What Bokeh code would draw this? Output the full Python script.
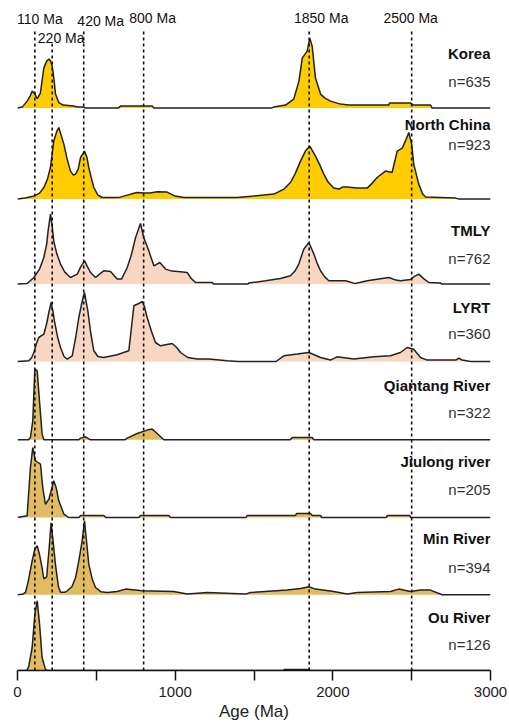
from bokeh.plotting import figure
from bokeh.models import Range1d, FixedTicker
from bokeh.embed import file_html
from bokeh.resources import INLINE
from bokeh.core.properties import value

# ---------------- data ----------------
panel_names = ["Korea", "North China", "TMLY", "LYRT", "Qiantang River",
               "Jiulong river", "Min River", "Ou River"]
panel_n = [635, 923, 762, 360, 322, 205, 394, 126]

korea_age = [0, 30, 61, 80, 93, 110, 125, 145, 167, 185, 199, 210, 220, 232, 241, 262, 290, 355, 380, 420, 430,
             640, 653, 854, 865, 1610, 1625, 1700, 1752, 1785, 1806, 1837, 1854, 1869, 1880, 1890, 1922, 1950,
             1985, 2048, 2100, 2354, 2360, 2494, 2510, 2620, 2630, 3000]
korea_dens = [0, 1, 7, 12, 17, 14, 9.5, 15, 40, 47, 49, 47, 42, 28, 14, 5.5, 3, 2, 1, 1, 0,
              0, 2, 2, 0, 0, 1, 3, 9, 27, 50, 57, 70, 62, 45, 30, 14, 10,
              7, 4, 3, 3, 5, 5, 3, 3, 0, 0]

nchina_age = [0, 50, 104, 140, 167, 190, 209, 230, 250, 262, 275, 294, 315, 336, 355, 368, 385, 400, 425, 440,
              452, 470, 484, 510, 537, 600, 640, 674, 720, 759, 801, 840, 886, 949, 1000, 1055, 1393, 1500,
              1626, 1690, 1731, 1760, 1795, 1826, 1854, 1890, 1915, 1943, 1970, 2006, 2040, 2060, 2091, 2150,
              2218, 2250, 2281, 2334, 2376, 2408, 2440, 2460, 2482, 2500, 2513, 2545, 2570, 2588, 2778, 2800, 3000]
nchina_dens = [0, 1, 3, 6, 11.6, 20, 31.6, 58, 68, 71.6, 65, 55, 40, 28, 24, 25, 30, 41.6, 48, 42,
               31.6, 20, 11.6, 4, 1.6, 1.5, 1.5, 3, 5, 6.6, 6, 6, 7.3, 7, 3, 1.5, 1.5, 3,
               5, 10, 16.6, 25, 38, 48, 53, 43, 35, 25, 17, 11, 10, 12, 12, 11,
               11, 16, 21.6, 28, 26.6, 48, 51, 58, 66.6, 55, 35, 15, 5, 2, 1, 0, 0]

tmly_age = [0, 61, 104, 140, 167, 185, 194, 209, 220, 230, 250, 273, 300, 336, 379, 400, 425, 445, 463, 495,
            520, 547, 590, 632, 660, 696, 720, 749, 780, 801, 833, 865, 903, 939, 980, 1034, 1076, 1100, 1129,
            1235, 1245, 1460, 1467, 1573, 1668, 1731, 1760, 1784, 1816, 1848, 1880, 1900, 1922, 1950, 1975,
            2080, 2143, 2218, 2355, 2400, 2429, 2492, 2520, 2545, 2580, 2609, 2683, 2690, 3000]
tmly_dens = [0, 0.6, 6.6, 15, 26.6, 40, 53, 70, 58, 43, 30, 20, 12, 6.6, 10, 17, 23.3, 17, 11.6, 6.6,
             10, 13.3, 12.6, 5, 5, 16.6, 28, 46.6, 60.6, 46.6, 33, 18.3, 21.6, 15, 13, 12.3, 11.6, 6, 1.6,
             1.5, 0, 0, 1, 3.3, 5.6, 8.3, 13, 20, 35, 41.6, 30, 21, 13.3, 7, 3.3,
             3.3, 0.5, 3.3, 6.6, 4, 3.3, 4.6, 8, 10, 5, 1.6, 1, 0, 0]

lyrt_age = [0, 72, 90, 104, 120, 135, 167, 185, 199, 213, 225, 234, 255, 273, 295, 315, 347, 370, 389, 410,
            425, 435, 446, 465, 484, 510, 547, 632, 706, 720, 738, 769, 791, 805, 822, 850, 875, 907, 981,
            1010, 1034, 1080, 1140, 1213, 1330, 1400, 1640, 1689, 1774, 1848, 1922, 1985, 2027, 2133, 2260,
            2366, 2429, 2471, 2513, 2556, 2598, 2780, 2799, 2820, 2873, 3000]
lyrt_dens = [0, 0.7, 4, 9, 18, 24, 27.3, 38, 49, 59, 50, 40.7, 24, 14, 5, 2.4, 5.7, 25, 44, 60,
             69, 60, 50.7, 28, 10.7, 5, 4, 6.7, 10.7, 30, 55.7, 58, 60, 55, 44, 30, 19, 15.7, 18,
             14, 9, 4, 2.4, 2.4, 0.7, 0, 0, 5.7, 7.4, 9, 4, 1.4, 4.7, 2.4, 4.7,
             5.7, 9, 14, 12.3, 4, 1.4, 1.4, 3.4, 1.4, 0, 0]

qiantang_age = [0, 70, 82, 97, 110, 125, 141, 156, 167, 390, 400, 431, 463, 680, 696, 759, 822, 854, 886, 928,
                1730, 1742, 1869, 1880, 3000]
qiantang_dens = [0, 0, 2.3, 19, 70.7, 69, 35.7, 5.7, 0, 0, 1.7, 3, 0, 0, 1.7, 6.3, 9.7, 10.7, 6.3, 0,
                 0, 2.3, 2.3, 0, 0]

jiulong_age = [0, 61, 82, 97, 114, 130, 146, 160, 177, 199, 230, 245, 262, 294, 325, 390, 400, 547, 560,
               770, 780, 960, 970, 1450, 1457, 1763, 1770, 1858, 1870, 1922, 1930, 2340, 2345, 2488, 2495, 3000]
jiulong_dens = [0, 1.7, 50, 70, 56.7, 55, 53.3, 30, 13.3, 18.3, 36.7, 30, 16.7, 3.4, 0, 0, 2, 2, 0,
                0, 2, 2, 0, 0, 2, 2, 4, 4, 2, 2, 0, 0, 2, 2, 0, 0]

min_age = [0, 30, 51, 70, 93, 110, 125, 140, 156, 167, 185, 200, 213, 225, 241, 260, 273, 300, 315, 345, 368,
           390, 410, 425, 440, 452, 475, 495, 530, 569, 632, 685, 791, 991, 1076, 1203, 1446, 1478, 1710,
           1795, 1848, 1890, 2006, 2091, 2154, 2366, 2418, 2492, 2556, 2619, 2693, 3000]
min_dens = [0, 0.5, 2.3, 15, 34, 46, 49, 40, 27, 16, 18, 45, 72, 55, 30, 8, 2.5, 2.5, 4, 8, 17,
            35, 54, 74, 50, 30.7, 15, 7.3, 3, 2.3, 3.3, 5.7, 4, 3.3, 0.7, 2.3, 0.7, 2.3, 4.7,
            6.3, 8, 5.7, 3.3, 0.7, 2.3, 3.3, 5.7, 3.3, 4.7, 4.7, 0, 0]

ou_age = [0, 60, 72, 93, 110, 125, 140, 156, 177, 190, 1689, 1690, 1848, 1850, 3000]
ou_dens = [0, 0, 4.7, 23, 56.3, 69.7, 46.3, 13, 1.4, 0, 0, 1, 1, 0, 0]

ref_ages = [110, 220, 420, 800, 1850, 2500]
ref_labels = ["110 Ma", "220 Ma", "420 Ma", "800 Ma", "1850 Ma", "2500 Ma"]

x_ticks = [0, 500, 1000, 1500, 2000, 2500, 3000]
x_tick_labels = ["0", "", "1000", "", "2000", "", "3000"]

# ---------------- layout / style ----------------
ages = [korea_age, nchina_age, tmly_age, lyrt_age, qiantang_age, jiulong_age, min_age, ou_age]
dens = [korea_dens, nchina_dens, tmly_dens, lyrt_dens, qiantang_dens, jiulong_dens, min_dens, ou_dens]
baselines = [562.4, 471.4, 386.4, 309.0, 230.7, 153.0, 75.7, 0.0]
name_dy = [55, 75, 54, 54, 54, 56, 56, 53]
n_dy = [27, 55, 26, 28, 27, 28, 27, 26]
gold, peach, tan = "#FFCC00", "#F9D6C1", "#E2BC62"
fills = [gold, gold, peach, peach, tan, tan, tan, tan]
ref_top = [641.7, 626.7, 641.0, 640.0, 640.0, 640.0]
lab_y = [652.0, 632.5, 649.5, 653.0, 653.0, 653.0]
lab_dx = [5, 9, 17, 9, 12, -1]

FONT = "Liberation Sans"

p = figure(width=509, height=724, x_range=Range1d(0, 3000), y_range=Range1d(0, 670),
           output_backend="svg", toolbar_location=None)
p.min_border_left = 17
p.min_border_right = 19
p.min_border_top = 0
p.min_border_bottom = 54
p.outline_line_color = None
p.grid.visible = False
p.yaxis.visible = False

for a, d, b, c in zip(ages, dens, baselines, fills):
    top = [b + v for v in d]
    p.varea(x=a, y1=[b] * len(a), y2=top, fill_color=c)
    p.line(x=a, y=top, line_color="#222222", line_width=1.5)

p.segment(x0=ref_ages, y0=[0] * len(ref_ages), x1=ref_ages, y1=ref_top,
          line_color="#111111", line_width=1.6, line_dash="3 3")

p.text(x=ref_ages, y=lab_y, text=ref_labels, x_offset=lab_dx, text_align="center",
       text_baseline="middle", text_font=value(FONT), text_font_size="14px", text_color="#111111")

p.text(x=[3000] * 8, y=[b + dy for b, dy in zip(baselines, name_dy)], text=panel_names,
       text_align="right", text_baseline="middle", text_font=value(FONT), text_font_size="15px",
       text_font_style="bold", text_color="#111111")
p.text(x=[3000] * 8, y=[b + dy for b, dy in zip(baselines, n_dy)], text=[f"n={n}" for n in panel_n],
       text_align="right", text_baseline="middle", text_font=value(FONT), text_font_size="15px",
       text_color="#333333")

ax = p.xaxis[0]
ax.ticker = FixedTicker(ticks=x_ticks)
ax.major_label_overrides = {t: l for t, l in zip(x_ticks, x_tick_labels)}
ax.major_tick_out = 10
ax.major_tick_in = 0
ax.minor_tick_line_color = None
ax.axis_line_width = 1.5
ax.major_tick_line_width = 1.5
ax.axis_line_color = "#111111"
ax.major_tick_line_color = "#111111"
ax.major_label_text_font = FONT
ax.major_label_text_font_size = "15px"
ax.major_label_text_color = "#222222"
ax.major_label_standoff = 6
ax.axis_label = "Age (Ma)"
ax.axis_label_text_font = FONT
ax.axis_label_text_font_size = "17px"
ax.axis_label_text_font_style = "normal"
ax.axis_label_text_color = "#222222"
ax.axis_label_standoff = 2

open("out.html", "w").write(file_html(p, INLINE))
